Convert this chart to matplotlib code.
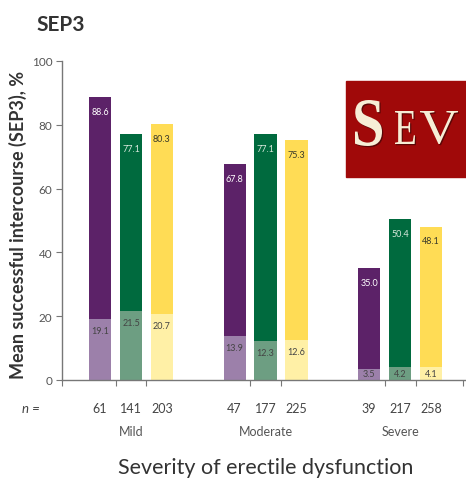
import matplotlib
matplotlib.use("Agg")
import matplotlib.pyplot as plt
from matplotlib.patches import Rectangle, PathPatch
from matplotlib.textpath import TextPath
from matplotlib.font_manager import FontProperties
from matplotlib.transforms import Affine2D

plt.rcParams['font.family'] = ['Lato', 'DejaVu Sans']

groups = ["Mild", "Moderate", "Severe"]
n_counts = [[61, 141, 203], [47, 177, 225], [39, 217, 258]]
# overall successful intercourse (%) per bar
sep3_total = [[88.6, 77.1, 80.3], [67.8, 77.1, 75.3], [35.0, 50.4, 48.1]]
# lower (baseline) segment per bar
sep3_base = [[19.1, 21.5, 20.7], [13.9, 12.3, 12.6], [3.5, 4.2, 4.1]]

dark_colors = ["#5c2268", "#006a3e", "#ffdc55"]
light_colors = ["#9c80aa", "#6d9e82", "#fff0a6"]
top_text_colors = ["white", "#d8e8dc", "#3a3a2a"]

W, H = 466, 485
fig = plt.figure(figsize=(W / 100, H / 100), dpi=100)
ax = fig.add_axes([62 / W, 104 / H, (W - 62) / W, 319 / H])

offset = 0.23
width = 0.165
for g in range(3):
    for i in range(3):
        x = g + (i - 1) * offset
        tot = sep3_total[g][i]
        base = sep3_base[g][i]
        ax.bar(x, base, width=width, color=light_colors[i], zorder=2)
        ax.bar(x, tot - base, bottom=base, width=width, color=dark_colors[i], zorder=2)
        ax.text(x, tot - 4.5, f"{tot:.1f}", ha="center", va="center",
                fontsize=6.5, color=top_text_colors[i], zorder=3)
        ax.text(x, max(base - 3.6, 1.9), f"{base:.1f}", ha="center", va="center",
                fontsize=6.5, color="#444444", zorder=3)

ax.set_xlim(-0.513, 2.49)
ax.set_ylim(0, 100)
for s in ["top", "right"]:
    ax.spines[s].set_visible(False)
for s in ["left", "bottom"]:
    ax.spines[s].set_color("#777777")
    ax.spines[s].set_linewidth(1.0)

ax.set_yticks([0, 20, 40, 60, 80, 100])
ax.tick_params(axis="y", direction="out", length=4, color="#777777",
               labelcolor="#555555", labelsize=8.5, pad=3)

xt = [-0.513]
for g in range(3):
    xt += [g - offset / 2, g + offset / 2]
xt.append(2.47)
ax.set_xticks(xt)
ax.set_xticklabels([])
ax.tick_params(axis="x", direction="out", length=4, color="#777777")

# n per bar and group names below the axis
for g in range(3):
    for i in range(3):
        x = g + (i - 1) * offset
        ax.text(x, -8.8, str(n_counts[g][i]), ha="center", va="center",
                fontsize=9, color="#444444")
    ax.text(g, -16, groups[g], ha="center", va="center", fontsize=9, color="#555555")
fig.text(31 / W, 1 - 409 / H, "n =", ha="center", va="center", fontsize=9.5,
         color="#444444", style="italic")

fig.text(266 / W, 1 - 468 / H, "Severity of erectile dysfunction", ha="center",
         va="center", fontsize=15.5, color="#333333")
fig.text(18 / W, 1 - 225 / H, "Mean successful intercourse (SEP3), %", ha="center",
         va="center", rotation=90, fontsize=13, fontweight="bold", color="#333333")
fig.text(36 / W, 1 - 25 / H, "SEP3", ha="left", va="center", fontsize=15,
         fontweight="bold", color="#333333")

# logo box with condensed serif lettering
fig.patches.append(Rectangle((346 / W, 1 - 178 / H), (W - 346) / W, 96 / H,
                             transform=fig.transFigure, color="#a00909", zorder=5))
serif_bold = FontProperties(family="Liberation Serif", weight="bold")
serif = FontProperties(family="Liberation Serif")


def logo_letter(ch, x0, x1, ytop, ybot, prop):
    path = TextPath((0, 0), ch, size=100, prop=prop)
    ext = path.get_extents()
    sx = (x1 - x0) / ext.width
    sy = (ybot - ytop) / ext.height
    base = Affine2D().translate(-ext.x0, -ext.y0).scale(sx, sy)
    shadow = base + Affine2D().translate(x0 + 1.2, H - ybot - 1.2)
    face = base + Affine2D().translate(x0, H - ybot)
    fig.patches.append(PathPatch(shadow.transform_path(path), transform=None,
                                 facecolor="#5a0606", edgecolor="none", zorder=6))
    fig.patches.append(PathPatch(face.transform_path(path), transform=None,
                                 facecolor="#f7eed6", edgecolor="none", zorder=7))


logo_letter("S", 355, 382, 101, 147, serif_bold)
logo_letter("E", 395, 415, 112, 145, serif)
logo_letter("V", 420, 458, 112, 145, serif)

fig.savefig("out.png", dpi=100)
